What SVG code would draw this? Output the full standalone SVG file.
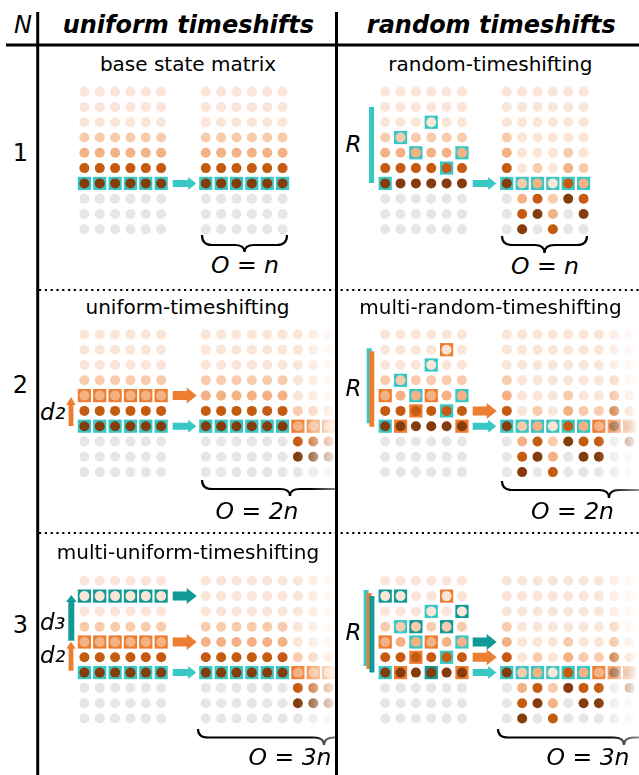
<svg xmlns="http://www.w3.org/2000/svg" width="639" height="775" viewBox="0 0 639 775">
<style>
text{font-family:"DejaVu Sans","Liberation Sans",sans-serif;fill:#000}
.hd{font-size:24px;font-weight:bold;font-style:italic;text-anchor:middle}
.ti{font-size:20px;text-anchor:middle}
.lab{font-size:24px;text-anchor:middle}
.it{font-size:23px;font-style:italic}
.sb{font-size:27px}
.mi{font-size:23.5px;font-style:italic;text-anchor:middle}
.L{fill:#fbe5d6}.P3{fill:#f8cbad}.P4{fill:#f4b183}.D5{fill:#c55a11}.B6{fill:#843c0c}.G{fill:#e7e6e6}
.cy{fill:#37c8c6}.or{fill:#ed7d31}.te{fill:#109a97}
.br{fill:none;stroke:#000;stroke-width:2.2}
.rule{stroke:#000;stroke-width:3;fill:none}
.dl{stroke:#000;stroke-width:2.2;stroke-dasharray:2.2 3.6;fill:none}
</style>
<defs>
<rect id="b" x="-6.6" y="-6.6" width="13.2" height="13.2"/>
<g id="brow"><use href="#b" x="0"/><use href="#b" x="15.35"/><use href="#b" x="30.7"/><use href="#b" x="46.05"/><use href="#b" x="61.4"/><use href="#b" x="76.75"/></g>
<g id="c0"><circle r="5" class="L"/><circle cy="15.3" r="5" class="L"/><circle cy="30.6" r="5" class="L"/><circle cy="45.9" r="5" class="P3"/><circle cy="61.2" r="5" class="P4"/><circle cy="76.5" r="5" class="D5"/><circle cy="91.8" r="5" class="B6"/><circle cy="107.1" r="5" class="G"/><circle cy="122.4" r="5" class="G"/><circle cy="137.7" r="5" class="G"/></g>
<g id="c1"><circle r="5" class="L"/><circle cy="15.3" r="5" class="L"/><circle cy="30.6" r="5" class="L"/><circle cy="45.9" r="5" class="L"/><circle cy="61.2" r="5" class="P3"/><circle cy="76.5" r="5" class="P4"/><circle cy="91.8" r="5" class="D5"/><circle cy="107.1" r="5" class="B6"/><circle cy="122.4" r="5" class="G"/><circle cy="137.7" r="5" class="G"/></g>
<g id="c2"><circle r="5" class="L"/><circle cy="15.3" r="5" class="L"/><circle cy="30.6" r="5" class="L"/><circle cy="45.9" r="5" class="L"/><circle cy="61.2" r="5" class="L"/><circle cy="76.5" r="5" class="P3"/><circle cy="91.8" r="5" class="P4"/><circle cy="107.1" r="5" class="D5"/><circle cy="122.4" r="5" class="B6"/><circle cy="137.7" r="5" class="G"/></g>
<g id="c3"><circle r="5" class="L"/><circle cy="15.3" r="5" class="L"/><circle cy="30.6" r="5" class="L"/><circle cy="45.9" r="5" class="L"/><circle cy="61.2" r="5" class="L"/><circle cy="76.5" r="5" class="L"/><circle cy="91.8" r="5" class="P3"/><circle cy="107.1" r="5" class="P4"/><circle cy="122.4" r="5" class="D5"/><circle cy="137.7" r="5" class="B6"/></g>
<g id="c4"><circle r="5" class="L"/><circle cy="15.3" r="5" class="L"/><circle cy="30.6" r="5" class="L"/><circle cy="45.9" r="5" class="L"/><circle cy="61.2" r="5" class="L"/><circle cy="76.5" r="5" class="L"/><circle cy="91.8" r="5" class="L"/><circle cy="107.1" r="5" class="P3"/><circle cy="122.4" r="5" class="P4"/><circle cy="137.7" r="5" class="D5"/></g>
<g id="base"><use href="#c0" x="0"/><use href="#c0" x="15.35"/><use href="#c0" x="30.7"/><use href="#c0" x="46.05"/><use href="#c0" x="61.4"/><use href="#c0" x="76.75"/></g>
<g id="rnd"><use href="#c0" x="0"/><use href="#c3" x="15.35"/><use href="#c2" x="30.7"/><use href="#c4" x="46.05"/><use href="#c1" x="61.4"/><use href="#c2" x="76.75"/></g>
<path id="as" d="M0,-3.5H15.5V-6.5L23.5,0L15.5,6.5V3.5H0Z"/>
<path id="ab" d="M0,-4.5H14V-8L24,0L14,8V4.5H0Z"/>
<linearGradient id="gL" gradientUnits="userSpaceOnUse" x1="298" y1="0" x2="340" y2="0"><stop offset="0" stop-color="#fff"/><stop offset="1" stop-color="#fff" stop-opacity="0"/></linearGradient>
<linearGradient id="gR" gradientUnits="userSpaceOnUse" x1="598" y1="0" x2="640" y2="0"><stop offset="0" stop-color="#fff"/><stop offset="1" stop-color="#fff" stop-opacity="0"/></linearGradient>
<linearGradient id="gbL" gradientUnits="userSpaceOnUse" x1="310" y1="0" x2="350" y2="0"><stop offset="0" stop-color="#fff"/><stop offset="1" stop-color="#fff" stop-opacity="0.2"/></linearGradient>
<linearGradient id="gbR" gradientUnits="userSpaceOnUse" x1="610" y1="0" x2="650" y2="0"><stop offset="0" stop-color="#fff"/><stop offset="1" stop-color="#fff" stop-opacity="0.2"/></linearGradient>
<mask id="mL" maskUnits="userSpaceOnUse" x="0" y="0" width="639" height="775"><rect x="0" y="0" width="335" height="775" fill="url(#gL)"/></mask>
<mask id="mR" maskUnits="userSpaceOnUse" x="0" y="0" width="639" height="775"><rect x="338" y="0" width="301" height="775" fill="url(#gR)"/></mask>
<mask id="mbL" maskUnits="userSpaceOnUse" x="0" y="0" width="639" height="775"><rect x="0" y="0" width="335" height="775" fill="url(#gbL)"/></mask>
<mask id="mbR" maskUnits="userSpaceOnUse" x="0" y="0" width="639" height="775"><rect x="338" y="0" width="301" height="775" fill="url(#gbR)"/></mask>
</defs>

<g id="frame">
<line x1="6" y1="45" x2="639" y2="45" class="rule"/>
<line x1="37.7" y1="12" x2="37.7" y2="775" class="rule"/>
<line x1="336.5" y1="12" x2="336.5" y2="775" class="rule"/>
<line x1="39" y1="290" x2="639" y2="290" class="dl"/>
<line x1="39" y1="533" x2="639" y2="533" class="dl"/>
<text x="23" y="33" class="lab" font-style="italic">N</text>
<text x="188.3" y="33" class="hd">uniform timeshifts</text>
<text x="491.3" y="33" class="hd">random timeshifts</text>
<text x="20.5" y="161" class="lab">1</text>
<text x="20.5" y="393" class="lab">2</text>
<text x="20.5" y="633" class="lab">3</text>
</g>

<g id="panel-1-uniform">
<text x="188" y="71" class="ti">base state matrix</text>
<use href="#brow" x="84.4" y="183.4" class="cy"/>
<use href="#base" x="84.4" y="91.6"/>
<use href="#brow" x="205.8" y="183.4" class="cy"/>
<use href="#base" x="205.8" y="91.6"/>
<path class="br" d="M202,235Q202,245 212,245H234.5Q244.5,245 244.5,252Q244.5,245 254.5,245H277Q287,245 287,235"/>
<text x="245" y="273" class="mi">O = n</text>
</g>

<g id="panel-1-random">
<text x="490.3" y="71" class="ti">random-timeshifting</text>
<rect x="369" y="107" width="5" height="76" class="cy"/>
<text x="353.5" y="152" class="it" text-anchor="middle">R</text>
<g class="cy"><use href="#b" x="431.25" y="122.2"/><use href="#b" x="400.55" y="137.5"/><use href="#b" x="415.9" y="152.8"/><use href="#b" x="461.95" y="152.8"/><use href="#b" x="446.6" y="168.1"/><use href="#b" x="385.2" y="183.4"/></g>
<use href="#base" x="385.2" y="91.6"/>
<use href="#brow" x="506.8" y="183.4" class="cy"/>
<use href="#rnd" x="506.8" y="91.6"/>
<path class="br" d="M502,236Q502,245 512,245H534.5Q544.5,245 544.5,253Q544.5,245 554.5,245H577Q587,245 587,236"/>
<text x="545" y="274" class="mi">O = n</text>
</g>

<g id="panel-2-uniform">
<text x="187.5" y="314" class="ti">uniform-timeshifting</text>
<use href="#brow" x="84.4" y="395.6" class="or"/>
<use href="#brow" x="84.4" y="426.2" class="cy"/>
<use href="#base" x="84.4" y="334.4"/>
<path class="or" d="M68.6,426V405H66.3L71,397L75.7,405H73.4V426Z"/>
<text x="40" y="420" class="it">d<tspan class="sb" dy="-1">₂</tspan></text>
<g mask="url(#mL)">
<use href="#brow" x="205.8" y="426.2" class="cy"/>
<g class="or"><use href="#b" x="297.9" y="426.2"/><use href="#b" x="313.25" y="426.2"/><use href="#b" x="328.6" y="426.2"/></g>
<use href="#base" x="205.8" y="334.4"/>
<use href="#c2" x="297.9" y="334.4"/><use href="#c2" x="313.25" y="334.4"/><use href="#c2" x="328.6" y="334.4"/>
</g>
<path class="br" mask="url(#mbL)" d="M202,480Q202,489 212,489H280Q290,489 290,496Q290,489 300,489H368Q378,489 378,480"/>
<text x="257" y="518.5" class="mi">O = 2n</text>
</g>

<g id="panel-2-random">
<text x="490.5" y="314" class="ti">multi-random-timeshifting</text>
<rect x="366.7" y="348.3" width="5" height="75" class="cy"/>
<rect x="369.3" y="351.3" width="5" height="75.5" class="or"/>
<text x="353.5" y="396" class="it" text-anchor="middle">R</text>
<g class="cy"><use href="#b" x="385.2" y="426.2"/><use href="#b" x="400.55" y="380.3"/><use href="#b" x="415.9" y="395.6"/><use href="#b" x="431.25" y="365"/><use href="#b" x="446.6" y="410.9"/><use href="#b" x="461.95" y="395.6"/></g>
<g class="or"><use href="#b" x="385.2" y="395.6"/><use href="#b" x="400.55" y="426.2"/><use href="#b" x="415.9" y="410.9"/><use href="#b" x="431.25" y="395.6"/><use href="#b" x="446.6" y="349.7"/><use href="#b" x="461.95" y="426.2"/></g>
<use href="#base" x="385.2" y="334.4"/>
<g mask="url(#mR)">
<use href="#brow" x="506.8" y="426.2" class="cy"/>
<g class="or"><use href="#b" x="598.9" y="426.2"/><use href="#b" x="614.25" y="426.2"/><use href="#b" x="629.6" y="426.2"/></g>
<use href="#rnd" x="506.8" y="334.4"/>
<use href="#c2" x="598.9" y="334.4"/><use href="#c0" x="614.25" y="334.4"/><use href="#c1" x="629.6" y="334.4"/>
</g>
<path class="br" mask="url(#mbR)" d="M502,481Q502,490 512,490H599Q609,490 609,498Q609,490 619,490H706Q716,490 716,481"/>
<text x="572.5" y="518.5" class="mi">O = 2n</text>
</g>

<g id="panel-3-uniform">
<text x="188" y="558.5" class="ti">multi-uniform-timeshifting</text>
<use href="#brow" x="84.4" y="596.1" class="te"/>
<use href="#brow" x="84.4" y="642" class="or"/>
<use href="#brow" x="84.4" y="672.6" class="cy"/>
<use href="#base" x="84.4" y="580.8"/>
<path class="te" d="M68.3,640.7V602H66L71.3,595L76.6,602H74.3V640.7Z"/>
<path class="or" d="M68.6,670.7V648.5H66.3L71,641.7L75.7,648.5H73.4V670.7Z"/>
<text x="40" y="630" class="it">d<tspan class="sb" dy="-1">₃</tspan></text>
<text x="40" y="663" class="it">d<tspan class="sb" dy="-1">₂</tspan></text>
<g mask="url(#mL)">
<use href="#brow" x="205.8" y="672.6" class="cy"/>
<g class="or"><use href="#b" x="297.9" y="672.6"/><use href="#b" x="313.25" y="672.6"/><use href="#b" x="328.6" y="672.6"/></g>
<use href="#base" x="205.8" y="580.8"/>
<use href="#c2" x="297.9" y="580.8"/><use href="#c2" x="313.25" y="580.8"/><use href="#c2" x="328.6" y="580.8"/>
</g>
<path class="br" mask="url(#mbL)" d="M198,729Q198,737.5 208,737.5H314Q324,737.5 324,745Q324,737.5 334,737.5H440Q450,737.5 450,729"/>
<text x="290" y="765" class="mi">O = 3n</text>
</g>

<g id="panel-3-random">
<rect x="363.6" y="590" width="5" height="76" class="cy"/>
<rect x="366.5" y="593" width="5" height="76" class="or"/>
<rect x="369.4" y="596" width="5" height="76.5" class="te"/>
<text x="353.5" y="640" class="it" text-anchor="middle">R</text>
<g class="cy"><use href="#b" x="385.2" y="672.6"/><use href="#b" x="400.55" y="626.7"/><use href="#b" x="415.9" y="642"/><use href="#b" x="431.25" y="611.4"/><use href="#b" x="446.6" y="657.3"/><use href="#b" x="461.95" y="642"/></g>
<g class="or"><use href="#b" x="385.2" y="642"/><use href="#b" x="400.55" y="672.6"/><use href="#b" x="415.9" y="657.3"/><use href="#b" x="431.25" y="642"/><use href="#b" x="446.6" y="596.1"/><use href="#b" x="461.95" y="672.6"/></g>
<g class="te"><use href="#b" x="385.2" y="596.1"/><use href="#b" x="400.55" y="596.1"/><use href="#b" x="415.9" y="626.7"/><use href="#b" x="431.25" y="672.6"/><use href="#b" x="446.6" y="626.7"/><use href="#b" x="461.95" y="611.4"/></g>
<use href="#base" x="385.2" y="580.8"/>
<g mask="url(#mR)">
<use href="#brow" x="506.8" y="672.6" class="cy"/>
<g class="or"><use href="#b" x="598.9" y="672.6"/><use href="#b" x="614.25" y="672.6"/><use href="#b" x="629.6" y="672.6"/></g>
<use href="#rnd" x="506.8" y="580.8"/>
<use href="#c2" x="598.9" y="580.8"/><use href="#c0" x="614.25" y="580.8"/><use href="#c1" x="629.6" y="580.8"/>
</g>
<path class="br" mask="url(#mbR)" d="M498,729Q498,737.5 508,737.5H614Q624,737.5 624,745Q624,737.5 634,737.5H740Q750,737.5 750,729"/>
<text x="588" y="765" class="mi">O = 3n</text>
</g>

<g id="connectors">
<use href="#as" x="172.7" y="183.4" class="cy"/>
<use href="#as" x="472.7" y="183.4" class="cy"/>
<use href="#ab" x="172.7" y="395.6" class="or"/>
<use href="#as" x="172.7" y="426.2" class="cy"/>
<use href="#ab" x="472.7" y="410.9" class="or"/>
<use href="#as" x="472.7" y="426.2" class="cy"/>
<use href="#ab" x="172.7" y="596.1" class="te"/>
<use href="#ab" x="172.7" y="642" class="or"/>
<use href="#as" x="172.7" y="672.6" class="cy"/>
<use href="#ab" x="472.7" y="642" class="te"/>
<use href="#ab" x="472.7" y="657.3" class="or"/>
<use href="#as" x="472.7" y="672.6" class="cy"/>
</g>
</svg>
